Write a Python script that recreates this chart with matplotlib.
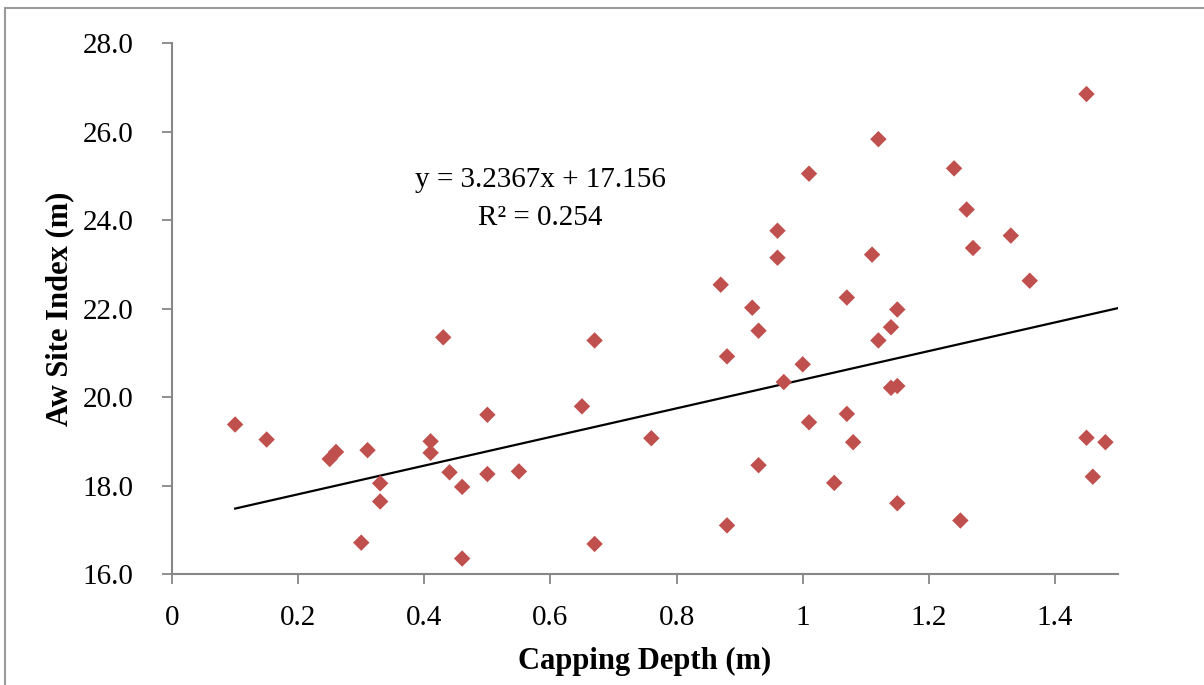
import numpy as np
import matplotlib
matplotlib.use("Agg")
import matplotlib.pyplot as plt
from matplotlib.patches import Rectangle

# capping depth (m) and Aw site index (m)
depth = [0.10, 0.15, 0.25, 0.26, 0.31, 0.33, 0.33, 0.30, 0.43, 0.41,
         0.41, 0.44, 0.46, 0.46, 0.50, 0.50, 0.55, 0.67, 0.65, 0.67,
         0.76, 0.87, 0.88, 0.88, 0.92, 0.93, 0.93, 0.96, 0.96, 0.97,
         1.00, 1.01, 1.01, 1.07, 1.07, 1.08, 1.05, 1.11, 1.12, 1.24,
         1.26, 1.33, 1.27, 1.36, 1.15, 1.14, 1.12, 1.14, 1.15, 1.15,
         1.25, 1.45, 1.48, 1.46, 1.45]
site_index = [19.38, 19.04, 18.60, 18.76, 18.80, 18.05, 17.64, 16.71, 21.35, 19.00,
              18.74, 18.30, 17.97, 16.35, 19.60, 18.26, 18.32, 21.28, 19.79, 16.68,
              19.07, 22.54, 20.92, 17.10, 22.02, 21.50, 18.46, 23.15, 23.76, 20.34,
              20.74, 19.43, 25.05, 22.25, 19.62, 18.98, 18.06, 23.22, 25.83, 25.17,
              24.24, 23.65, 23.37, 22.63, 21.98, 21.58, 21.28, 20.21, 20.25, 17.60,
              17.21, 19.08, 18.98, 18.20, 26.85]

# linear trendline as printed on the chart
slope = 3.2367
intercept = 17.156
trend_x = [0.10, 1.50]

x_ticks = [0, 0.2, 0.4, 0.6, 0.8, 1, 1.2, 1.4]
x_tick_labels = ["0", "0.2", "0.4", "0.6", "0.8", "1", "1.2", "1.4"]
y_ticks = [16, 18, 20, 22, 24, 26, 28]

plt.rcParams['font.family'] = ['Liberation Serif', 'DejaVu Serif']
grey = "#878787"
fs = 21

fig = plt.figure(figsize=(12.04, 6.85), dpi=100)
ax = fig.add_axes([0.1429, 0.162, 0.7857, 0.775])

# outer chart border
fig.patches.append(Rectangle((5 / 1204, -0.05), 1.1, 1.05 - 8 / 685,
                             transform=fig.transFigure, fill=False,
                             edgecolor="#9a9a9a", linewidth=1.5))

ax.scatter(depth, site_index, marker="D", s=70, color="#C0504D",
           edgecolors="none", zorder=3)

tx = np.array(trend_x)
ax.plot(tx, slope * tx + intercept, color="black", linewidth=1.6, zorder=2)

ax.text(0.584, 24.91, "y = 3.2367x + 17.156", ha="center", va="center", fontsize=fs)
ax.text(0.584, 24.05, "R² = 0.254", ha="center", va="center", fontsize=fs)

ax.set_xlim(0, 1.5)
ax.set_ylim(16, 28)
ax.set_xticks(x_ticks)
ax.set_xticklabels(x_tick_labels)
ax.set_yticks(y_ticks)
ax.set_yticklabels([f"{v:.1f}" for v in y_ticks])

for side in ["top", "right"]:
    ax.spines[side].set_visible(False)
for side in ["left", "bottom"]:
    ax.spines[side].set_color(grey)
    ax.spines[side].set_linewidth(1.5)

ax.tick_params(axis="both", colors=grey, labelcolor="black", labelsize=fs,
               length=7, width=1.3, direction="out")
ax.tick_params(axis="x", pad=15)
ax.tick_params(axis="y", pad=21)

ax.set_xlabel("Capping Depth (m)", fontsize=22, fontweight="bold", labelpad=12)
ax.set_ylabel("Aw Site Index (m)", fontsize=22, fontweight="bold", labelpad=6)

fig.savefig("out.png", dpi=100)
